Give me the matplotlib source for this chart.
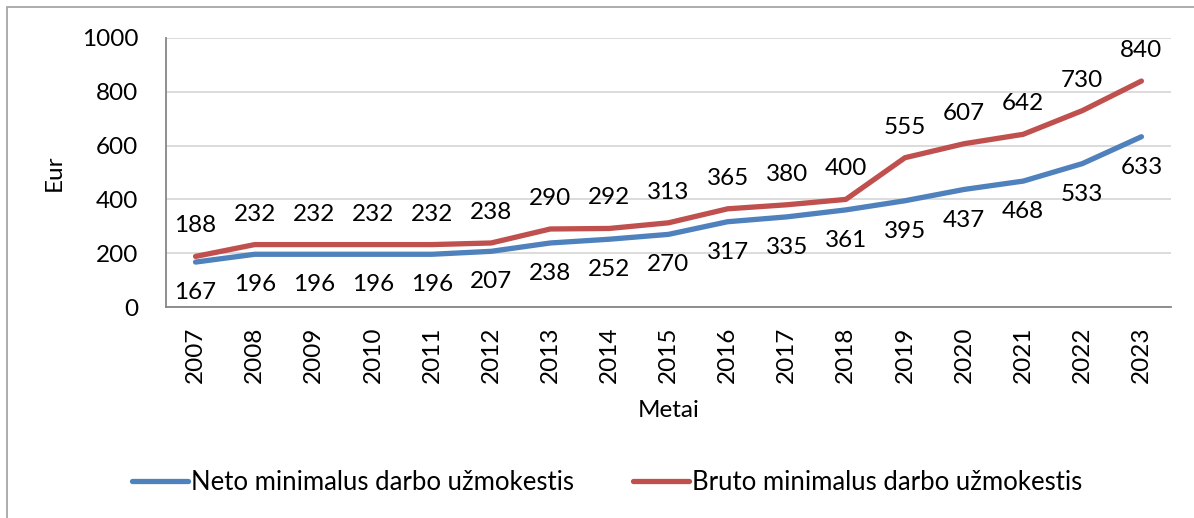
import numpy as np
import matplotlib
matplotlib.use("Agg")
import matplotlib.pyplot as plt
from matplotlib.patches import Rectangle

plt.rcParams["font.family"] = ["Lato", "DejaVu Sans"]

YEARS = ["2007", "2008", "2009", "2010", "2011", "2012", "2013", "2014", "2015",
         "2016", "2017", "2018", "2019", "2020", "2021", "2022", "2023"]
NETO = [167, 196, 196, 196, 196, 207, 238, 252, 270, 317, 335, 361, 395, 437,
        468, 533, 633]
BRUTO = [188, 232, 232, 232, 232, 238, 290, 292, 313, 365, 380, 400, 555, 607,
         642, 730, 840]
NETO_LABEL = "Neto minimalus darbo užmokestis"
BRUTO_LABEL = "Bruto minimalus darbo užmokestis"

BLUE = "#4F81BD"
RED = "#C0504D"
FS = 17.5


def main():
    W, H = 1194, 518
    fig = plt.figure(figsize=(W / 100, H / 100), dpi=100)
    ax = fig.add_axes([166 / W, 1 - 307 / H, (1171 - 166) / W, (307 - 38) / H])

    x = np.arange(len(YEARS))
    ax.plot(x, NETO, color=BLUE, lw=3.8, solid_capstyle="round",
            label=NETO_LABEL, zorder=3)
    ax.plot(x, BRUTO, color=RED, lw=3.8, solid_capstyle="round",
            label=BRUTO_LABEL, zorder=3)

    for xi, v in zip(x, NETO):
        ax.annotate(str(v), (xi, v), xytext=(0, -22), textcoords="offset points",
                    ha="center", va="center", fontsize=FS, annotation_clip=False)
    for xi, v in zip(x, BRUTO):
        ax.annotate(str(v), (xi, v), xytext=(0, 22), textcoords="offset points",
                    ha="center", va="center", fontsize=FS, annotation_clip=False)

    ax.set_xlim(-0.5, len(YEARS) - 0.5)
    ax.set_ylim(0, 1000)
    ax.set_yticks(np.arange(0, 1001, 200))
    ax.set_xticks(x)
    ax.set_xticklabels(YEARS, rotation=90)
    ax.tick_params(axis="both", length=0, labelsize=FS)
    ax.tick_params(axis="y", pad=20)
    ax.tick_params(axis="x", pad=14)
    ax.grid(axis="y", color="#D9D9D9", lw=1.3)
    ax.set_axisbelow(True)
    for s in ["top", "right"]:
        ax.spines[s].set_visible(False)
    for s in ["left", "bottom"]:
        ax.spines[s].set_color("#868686")
        ax.spines[s].set_linewidth(1.3)

    ax.set_xlabel("Metai", fontsize=FS, labelpad=12)
    ax.set_ylabel("Eur", fontsize=FS, labelpad=12)

    fig.legend(loc="center", bbox_to_anchor=(607 / W, 1 - 482 / H), ncol=2,
               fontsize=18.5, frameon=False, handlelength=2.2,
               handletextpad=0.1, columnspacing=2.3)

    fig.patches.append(Rectangle((7 / W, -0.1), 1.2, 1 - 7 / H + 0.1,
                                 transform=fig.transFigure, fill=False,
                                 edgecolor="#A6A6A6", lw=1.3))

    fig.savefig("out.png", dpi=100)


if __name__ == "__main__":
    main()
